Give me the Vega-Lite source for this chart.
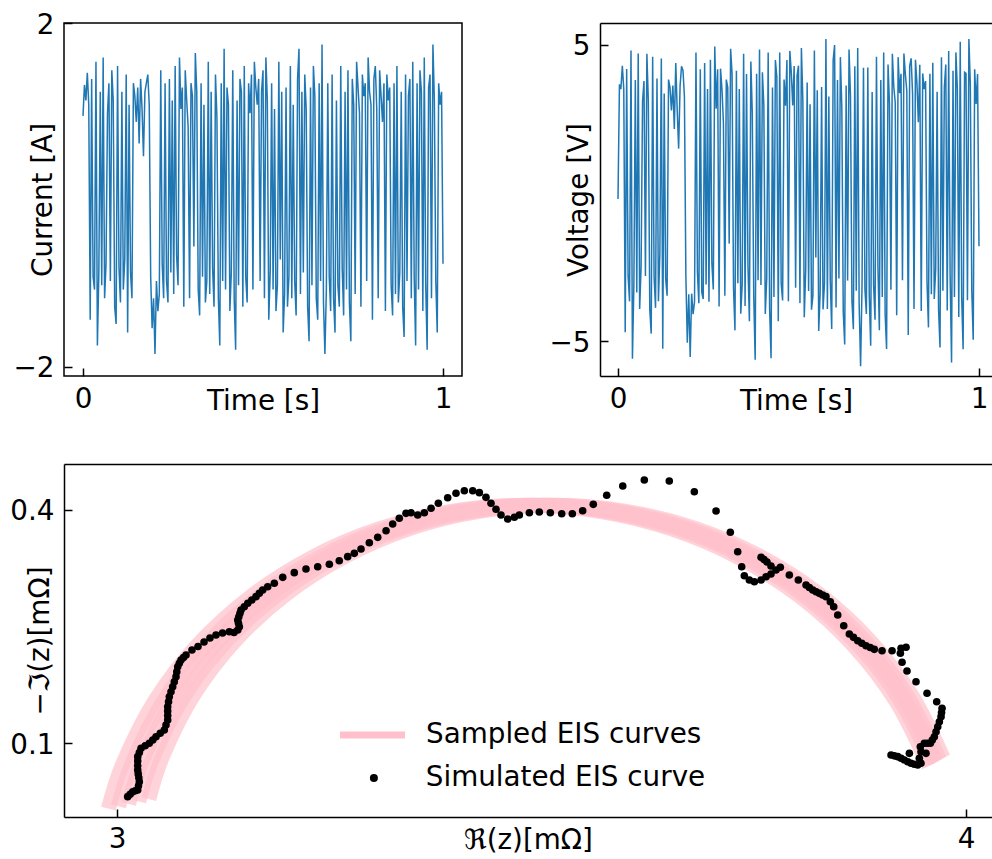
{
"$schema": "https://vega.github.io/schema/vega-lite/v6.json",
"background": "white",
"padding": {"left": 9, "top": 10, "right": 0, "bottom": 0},
"bounds": "flush",
"spacing": 441,
"config": {
  "font": "DejaVu Sans",
  "view": {"stroke": null},
  "axis": {"labelFont": "DejaVu Sans", "labelFontSize": 27.8, "labelColor": "black", "titleFont": "DejaVu Sans", "titleFontSize": 27.8, "titleFontWeight": "normal", "titleColor": "black", "tickColor": "black", "tickWidth": 1.5, "tickSize": -8, "domainColor": "black", "domainWidth": 1.5, "grid": false, "labelFlush": false, "labelOverlap": false, "labelLimit": 0},
  "axisY": {"labelBaseline": "alphabetic", "labelOffset": 10},
  "legend": {"labelFont": "DejaVu Sans", "labelFontSize": 27.8, "labelColor": "black", "labelLimit": 0, "padding": 0}
},
"datasets": {
"ts": [
{"t":0,"I":0.92,"V":-0.2},{"t":0.004,"I":1.28,"V":3.67},{"t":0.008,"I":1.1,"V":3.51},{"t":0.012,"I":1.42,"V":4.3},{"t":0.016,"I":1.05,"V":3.51},{"t":0.02,"I":-1.45,"V":-4.7},{"t":0.024,"I":1.35,"V":4.19},{"t":0.028,"I":-0.95,"V":-2.8},{"t":0.032,"I":-1.1,"V":-3.66},{"t":0.036,"I":1.55,"V":4.81},
{"t":0.04,"I":-1.75,"V":-5.6},{"t":0.044,"I":-0.9,"V":-3.09},{"t":0.048,"I":1.2,"V":3.82},{"t":0.052,"I":-1.05,"V":-3.36},{"t":0.056,"I":1.6,"V":4.71},{"t":0.06,"I":-1.2,"V":-3.92},{"t":0.064,"I":-0.8,"V":-2.48},{"t":0.068,"I":0.95,"V":3.1},{"t":0.072,"I":1.3,"V":3.78},{"t":0.076,"I":-1.0,"V":-2.8},
{"t":0.08,"I":1.45,"V":4.7},{"t":0.084,"I":1.1,"V":3.11},{"t":0.088,"I":-1.3,"V":-3.93},{"t":0.092,"I":-1.5,"V":-4.75},{"t":0.096,"I":1.5,"V":4.6},{"t":0.1,"I":-0.85,"V":-2.84},{"t":0.104,"I":-1.25,"V":-3.88},{"t":0.108,"I":1.2,"V":3.87},{"t":0.112,"I":-1.1,"V":-3.66},{"t":0.116,"I":-0.75,"V":-2.03},
{"t":0.12,"I":1.4,"V":4.54},{"t":0.124,"I":-1.6,"V":-5.26},{"t":0.128,"I":1.05,"V":3.36},{"t":0.132,"I":-0.9,"V":-2.89},{"t":0.136,"I":-1.2,"V":-3.47},{"t":0.14,"I":1.3,"V":3.83},{"t":0.144,"I":1.15,"V":3.57},{"t":0.148,"I":0.85,"V":2.79},{"t":0.152,"I":1.25,"V":3.63},{"t":0.156,"I":0.6,"V":2.16},
{"t":0.16,"I":1.35,"V":4.39},{"t":0.164,"I":1.0,"V":2.8},{"t":0.168,"I":0.45,"V":1.5},{"t":0.172,"I":1.2,"V":3.62},{"t":0.176,"I":1.3,"V":4.28},{"t":0.18,"I":1.4,"V":4.14},{"t":0.184,"I":1.05,"V":3.26},{"t":0.188,"I":-0.95,"V":-2.8},{"t":0.192,"I":-1.55,"V":-5.06},{"t":0.196,"I":-1.2,"V":-3.42},
{"t":0.2,"I":-1.85,"V":-5.54},{"t":0.204,"I":-1.0,"V":-3.4},{"t":0.208,"I":-1.35,"V":-4.09},{"t":0.212,"I":-1.15,"V":-3.67},{"t":0.216,"I":1.45,"V":4.75},{"t":0.22,"I":-0.8,"V":-2.68},{"t":0.224,"I":-1.2,"V":-3.72},{"t":0.228,"I":1.3,"V":4.18},{"t":0.232,"I":-1.0,"V":-3.35},{"t":0.236,"I":-1.25,"V":-3.58},
{"t":0.24,"I":1.35,"V":4.39},{"t":0.244,"I":-0.9,"V":-3.09},{"t":0.248,"I":1.1,"V":3.51},{"t":0.252,"I":-1.15,"V":-3.67},{"t":0.256,"I":1.5,"V":4.5},{"t":0.26,"I":-0.7,"V":-2.37},{"t":0.264,"I":-1.05,"V":-3.26},{"t":0.268,"I":1.6,"V":4.95},{"t":0.272,"I":1.0,"V":2.85},{"t":0.276,"I":1.25,"V":4.18},
{"t":0.28,"I":-1.3,"V":-3.83},{"t":0.284,"I":1.45,"V":4.2},{"t":0.288,"I":1.1,"V":3.51},{"t":0.292,"I":0.8,"V":2.38},{"t":0.296,"I":-1.2,"V":-3.47},{"t":0.3,"I":1.3,"V":3.83},{"t":0.304,"I":1.15,"V":3.57},{"t":0.308,"I":-0.6,"V":-1.71},{"t":0.312,"I":1.65,"V":4.87},{"t":0.316,"I":1.2,"V":4.02},
{"t":0.32,"I":-1.1,"V":-3.21},{"t":0.324,"I":-1.4,"V":-4.64},{"t":0.328,"I":1.3,"V":4.13},{"t":0.332,"I":-0.95,"V":-3.05},{"t":0.336,"I":1.05,"V":3.51},{"t":0.34,"I":-1.25,"V":-4.08},{"t":0.344,"I":-1.0,"V":-3.1},{"t":0.348,"I":1.55,"V":4.7},{"t":0.352,"I":-1.15,"V":-3.82},{"t":0.356,"I":1.2,"V":4.02},
{"t":0.36,"I":-0.85,"V":-2.44},{"t":0.364,"I":-1.3,"V":-4.33},{"t":0.368,"I":1.4,"V":4.44},{"t":0.372,"I":0.9,"V":2.69},{"t":0.376,"I":-1.2,"V":-3.47},{"t":0.38,"I":-1.75,"V":-5.63},{"t":0.384,"I":1.3,"V":4.03},{"t":0.388,"I":-1.0,"V":-2.95},{"t":0.392,"I":1.7,"V":4.85},{"t":0.396,"I":-1.1,"V":-3.11},
{"t":0.4,"I":1.25,"V":4.08},{"t":0.404,"I":1.05,"V":2.96},{"t":0.408,"I":-1.35,"V":-4.09},{"t":0.412,"I":-0.9,"V":-2.89},{"t":0.416,"I":1.45,"V":4.75},{"t":0.42,"I":-1.2,"V":-3.92},{"t":0.424,"I":-1.8,"V":-5.58},{"t":0.428,"I":1.1,"V":3.56},{"t":0.432,"I":-1.05,"V":-3.51},{"t":0.436,"I":1.35,"V":4.49},
{"t":0.44,"I":1.2,"V":3.92},{"t":0.444,"I":-1.3,"V":-4.33},{"t":0.448,"I":1.5,"V":4.75},{"t":0.452,"I":-0.95,"V":-3.05},{"t":0.456,"I":-1.25,"V":-3.63},{"t":0.46,"I":1.3,"V":3.83},{"t":0.464,"I":0.95,"V":2.95},{"t":0.468,"I":1.4,"V":4.49},{"t":0.472,"I":-1.1,"V":-3.66},{"t":0.476,"I":1.55,"V":4.8},
{"t":0.48,"I":1.25,"V":4.08},{"t":0.484,"I":1.05,"V":2.96},{"t":0.488,"I":1.35,"V":4.29},{"t":0.492,"I":-1.0,"V":-3.2},{"t":0.496,"I":1.2,"V":3.97},{"t":0.5,"I":1.45,"V":4.3},{"t":0.504,"I":-1.2,"V":-3.72},{"t":0.508,"I":1.6,"V":4.9},{"t":0.512,"I":1.1,"V":3.16},{"t":0.516,"I":-1.45,"V":-4.2},
{"t":0.52,"I":-0.9,"V":-2.59},{"t":0.524,"I":1.3,"V":3.73},{"t":0.528,"I":-1.1,"V":-3.31},{"t":0.532,"I":1.0,"V":3.0},{"t":0.536,"I":-1.35,"V":-3.94},{"t":0.54,"I":-1.05,"V":-3.46},{"t":0.544,"I":1.55,"V":4.81},{"t":0.548,"I":-0.75,"V":-2.18},{"t":0.552,"I":1.2,"V":3.47},{"t":0.556,"I":-1.6,"V":-4.66},
{"t":0.56,"I":-1.15,"V":-3.37},{"t":0.564,"I":1.25,"V":3.58},{"t":0.568,"I":-1.3,"V":-3.93},{"t":0.572,"I":-0.95,"V":-3.05},{"t":0.576,"I":1.5,"V":5.2},{"t":0.58,"I":-1.2,"V":-3.92},{"t":0.584,"I":1.05,"V":3.26},{"t":0.588,"I":-1.0,"V":-2.95},{"t":0.592,"I":-1.4,"V":-4.59},{"t":0.596,"I":1.35,"V":4.49},
{"t":0.6,"I":1.7,"V":5.0},{"t":0.604,"I":-1.15,"V":-3.87},{"t":0.608,"I":1.2,"V":3.82},{"t":0.612,"I":-0.9,"V":-2.89},{"t":0.616,"I":1.4,"V":4.59},{"t":0.62,"I":1.0,"V":2.9},{"t":0.624,"I":-1.3,"V":-4.03},{"t":0.628,"I":-1.7,"V":-5.12},{"t":0.632,"I":1.25,"V":3.63},{"t":0.636,"I":-1.05,"V":-2.96},
{"t":0.64,"I":1.5,"V":4.85},{"t":0.644,"I":1.15,"V":3.27},{"t":0.648,"I":-1.2,"V":-3.62},{"t":0.652,"I":-1.45,"V":-4.6},{"t":0.656,"I":1.3,"V":4.28},{"t":0.66,"I":-1.0,"V":-3.3},{"t":0.664,"I":1.75,"V":4.9},{"t":0.668,"I":-1.25,"V":-3.73},{"t":0.672,"I":-1.85,"V":-5.85},{"t":0.676,"I":-1.1,"V":-3.11},
{"t":0.68,"I":1.3,"V":4.23},{"t":0.684,"I":-0.95,"V":-3.25},{"t":0.688,"I":-1.35,"V":-4.09},{"t":0.692,"I":1.4,"V":4.24},{"t":0.696,"I":-1.2,"V":-3.47},{"t":0.7,"I":-1.6,"V":-5.16},{"t":0.704,"I":1.1,"V":3.41},{"t":0.708,"I":-1.05,"V":-3.11},{"t":0.712,"I":-1.3,"V":-4.28},{"t":0.716,"I":1.5,"V":4.6},
{"t":0.72,"I":-0.85,"V":-2.44},{"t":0.724,"I":-1.4,"V":-4.64},{"t":0.728,"I":1.2,"V":3.82},{"t":0.732,"I":-1.1,"V":-3.51},{"t":0.736,"I":1.45,"V":4.75},{"t":0.74,"I":-1.25,"V":-4.08},{"t":0.744,"I":-1.7,"V":-5.27},{"t":0.748,"I":1.35,"V":4.34},{"t":0.752,"I":1.05,"V":3.01},{"t":0.756,"I":-1.15,"V":-3.27},
{"t":0.76,"I":1.55,"V":4.7},{"t":0.764,"I":1.25,"V":3.58},{"t":0.768,"I":0.95,"V":3.05},{"t":0.772,"I":-1.3,"V":-4.13},{"t":0.776,"I":1.4,"V":4.59},{"t":0.78,"I":1.15,"V":3.37},{"t":0.784,"I":1.3,"V":4.03},{"t":0.788,"I":-1.0,"V":-2.95},{"t":0.792,"I":1.6,"V":4.71},{"t":0.796,"I":1.2,"V":4.02},
{"t":0.8,"I":1.05,"V":3.46},{"t":0.804,"I":-1.45,"V":-4.8},{"t":0.808,"I":1.35,"V":4.29},{"t":0.812,"I":1.5,"V":4.55},{"t":0.816,"I":1.0,"V":3.35},{"t":0.82,"I":-1.2,"V":-3.92},{"t":0.824,"I":1.45,"V":4.5},{"t":0.828,"I":1.15,"V":3.72},{"t":0.832,"I":0.85,"V":2.39},{"t":0.836,"I":1.3,"V":4.33},
{"t":0.84,"I":-1.35,"V":-3.99},{"t":0.844,"I":1.4,"V":4.04},{"t":0.848,"I":1.1,"V":3.51},{"t":0.852,"I":1.25,"V":3.78},{"t":0.856,"I":-1.05,"V":-3.01},{"t":0.86,"I":-1.4,"V":-4.54},{"t":0.864,"I":1.3,"V":4.03},{"t":0.868,"I":-1.15,"V":-3.42},{"t":0.872,"I":1.5,"V":4.4},{"t":0.876,"I":-1.25,"V":-3.58},
{"t":0.88,"I":-0.9,"V":-2.59},{"t":0.884,"I":1.2,"V":3.42},{"t":0.888,"I":-1.3,"V":-3.93},{"t":0.892,"I":-1.65,"V":-5.22},{"t":0.896,"I":1.4,"V":4.59},{"t":0.9,"I":-1.0,"V":-3.3},{"t":0.904,"I":1.15,"V":3.57},{"t":0.908,"I":1.35,"V":4.34},{"t":0.912,"I":-1.2,"V":-3.97},{"t":0.916,"I":1.55,"V":4.8},
{"t":0.92,"I":-0.95,"V":-2.75},{"t":0.924,"I":-1.75,"V":-5.73},{"t":0.928,"I":1.3,"V":4.13},{"t":0.932,"I":-1.1,"V":-3.51},{"t":0.936,"I":1.45,"V":4.75},{"t":0.94,"I":1.2,"V":3.52},{"t":0.944,"I":-1.35,"V":-4.19},{"t":0.948,"I":1.6,"V":5.11},{"t":0.952,"I":-1.05,"V":-3.51},{"t":0.956,"I":-1.8,"V":-5.28},
{"t":0.96,"I":1.25,"V":4.08},{"t":0.964,"I":1.4,"V":4.04},{"t":0.968,"I":-1.2,"V":-3.62},{"t":0.972,"I":1.75,"V":5.2},{"t":0.976,"I":1.1,"V":3.66},{"t":0.98,"I":-1.0,"V":-3.3},{"t":0.984,"I":-1.6,"V":-4.96},{"t":0.988,"I":1.3,"V":4.18},{"t":0.992,"I":1.05,"V":3.01},{"t":0.996,"I":1.2,"V":4.02},
{"t":1.0,"I":-0.8,"V":-1.8}
],
"arcs": [
{"c":1,"Re":2.9899,"Im":0.0154,"s":"Sampled EIS curves"},{"c":1,"Re":3.0074,"Im":0.0744,"s":"Sampled EIS curves"},{"c":1,"Re":3.0445,"Im":0.154,"s":"Sampled EIS curves"},{"c":1,"Re":3.0949,"Im":0.226,"s":"Sampled EIS curves"},{"c":1,"Re":3.157,"Im":0.2881,"s":"Sampled EIS curves"},{"c":1,"Re":3.229,"Im":0.3385,"s":"Sampled EIS curves"},{"c":1,"Re":3.3086,"Im":0.3756,"s":"Sampled EIS curves"},{"c":1,"Re":3.3935,"Im":0.3983,"s":"Sampled EIS curves"},{"c":1,"Re":3.481,"Im":0.406,"s":"Sampled EIS curves"},{"c":1,"Re":3.5685,"Im":0.3983,"s":"Sampled EIS curves"},{"c":1,"Re":3.6534,"Im":0.3756,"s":"Sampled EIS curves"},{"c":1,"Re":3.733,"Im":0.3385,"s":"Sampled EIS curves"},{"c":1,"Re":3.805,"Im":0.2881,"s":"Sampled EIS curves"},{"c":1,"Re":3.8671,"Im":0.226,"s":"Sampled EIS curves"},{"c":1,"Re":3.9175,"Im":0.154,"s":"Sampled EIS curves"},{"c":1,"Re":3.9561,"Im":0.0702,"s":"Sampled EIS curves"},
{"c":2,"Re":3.0018,"Im":0.0185,"s":"Sampled EIS curves"},{"c":2,"Re":3.0191,"Im":0.077,"s":"Sampled EIS curves"},{"c":2,"Re":3.056,"Im":0.156,"s":"Sampled EIS curves"},{"c":2,"Re":3.106,"Im":0.2274,"s":"Sampled EIS curves"},{"c":2,"Re":3.1676,"Im":0.289,"s":"Sampled EIS curves"},{"c":2,"Re":3.239,"Im":0.339,"s":"Sampled EIS curves"},{"c":2,"Re":3.318,"Im":0.3759,"s":"Sampled EIS curves"},{"c":2,"Re":3.4022,"Im":0.3984,"s":"Sampled EIS curves"},{"c":2,"Re":3.489,"Im":0.406,"s":"Sampled EIS curves"},{"c":2,"Re":3.5758,"Im":0.3984,"s":"Sampled EIS curves"},{"c":2,"Re":3.66,"Im":0.3759,"s":"Sampled EIS curves"},{"c":2,"Re":3.739,"Im":0.339,"s":"Sampled EIS curves"},{"c":2,"Re":3.8104,"Im":0.289,"s":"Sampled EIS curves"},{"c":2,"Re":3.872,"Im":0.2274,"s":"Sampled EIS curves"},{"c":2,"Re":3.922,"Im":0.156,"s":"Sampled EIS curves"},{"c":2,"Re":3.9603,"Im":0.0729,"s":"Sampled EIS curves"},
{"c":3,"Re":3.0137,"Im":0.0216,"s":"Sampled EIS curves"},{"c":3,"Re":3.0309,"Im":0.0796,"s":"Sampled EIS curves"},{"c":3,"Re":3.0675,"Im":0.158,"s":"Sampled EIS curves"},{"c":3,"Re":3.1171,"Im":0.2288,"s":"Sampled EIS curves"},{"c":3,"Re":3.1782,"Im":0.2899,"s":"Sampled EIS curves"},{"c":3,"Re":3.249,"Im":0.3395,"s":"Sampled EIS curves"},{"c":3,"Re":3.3274,"Im":0.3761,"s":"Sampled EIS curves"},{"c":3,"Re":3.4109,"Im":0.3985,"s":"Sampled EIS curves"},{"c":3,"Re":3.497,"Im":0.406,"s":"Sampled EIS curves"},{"c":3,"Re":3.5831,"Im":0.3985,"s":"Sampled EIS curves"},{"c":3,"Re":3.6666,"Im":0.3761,"s":"Sampled EIS curves"},{"c":3,"Re":3.745,"Im":0.3395,"s":"Sampled EIS curves"},{"c":3,"Re":3.8158,"Im":0.2899,"s":"Sampled EIS curves"},{"c":3,"Re":3.8769,"Im":0.2288,"s":"Sampled EIS curves"},{"c":3,"Re":3.9265,"Im":0.158,"s":"Sampled EIS curves"},{"c":3,"Re":3.9645,"Im":0.0756,"s":"Sampled EIS curves"},
{"c":4,"Re":3.0256,"Im":0.0247,"s":"Sampled EIS curves"},{"c":4,"Re":3.0427,"Im":0.0823,"s":"Sampled EIS curves"},{"c":4,"Re":3.0789,"Im":0.16,"s":"Sampled EIS curves"},{"c":4,"Re":3.1281,"Im":0.2303,"s":"Sampled EIS curves"},{"c":4,"Re":3.1887,"Im":0.2909,"s":"Sampled EIS curves"},{"c":4,"Re":3.259,"Im":0.3401,"s":"Sampled EIS curves"},{"c":4,"Re":3.3367,"Im":0.3763,"s":"Sampled EIS curves"},{"c":4,"Re":3.4196,"Im":0.3985,"s":"Sampled EIS curves"},{"c":4,"Re":3.505,"Im":0.406,"s":"Sampled EIS curves"},{"c":4,"Re":3.5904,"Im":0.3985,"s":"Sampled EIS curves"},{"c":4,"Re":3.6733,"Im":0.3763,"s":"Sampled EIS curves"},{"c":4,"Re":3.751,"Im":0.3401,"s":"Sampled EIS curves"},{"c":4,"Re":3.8213,"Im":0.2909,"s":"Sampled EIS curves"},{"c":4,"Re":3.8819,"Im":0.2303,"s":"Sampled EIS curves"},{"c":4,"Re":3.9311,"Im":0.16,"s":"Sampled EIS curves"},{"c":4,"Re":3.9688,"Im":0.0782,"s":"Sampled EIS curves"},
{"c":5,"Re":3.0375,"Im":0.0278,"s":"Sampled EIS curves"},{"c":5,"Re":3.0544,"Im":0.0849,"s":"Sampled EIS curves"},{"c":5,"Re":3.0904,"Im":0.162,"s":"Sampled EIS curves"},{"c":5,"Re":3.1392,"Im":0.2317,"s":"Sampled EIS curves"},{"c":5,"Re":3.1993,"Im":0.2918,"s":"Sampled EIS curves"},{"c":5,"Re":3.269,"Im":0.3406,"s":"Sampled EIS curves"},{"c":5,"Re":3.3461,"Im":0.3768,"s":"Sampled EIS curves"},{"c":5,"Re":3.4283,"Im":0.3986,"s":"Sampled EIS curves"},{"c":5,"Re":3.513,"Im":0.406,"s":"Sampled EIS curves"},{"c":5,"Re":3.5977,"Im":0.3986,"s":"Sampled EIS curves"},{"c":5,"Re":3.6799,"Im":0.3768,"s":"Sampled EIS curves"},{"c":5,"Re":3.757,"Im":0.3406,"s":"Sampled EIS curves"},{"c":5,"Re":3.8267,"Im":0.2918,"s":"Sampled EIS curves"},{"c":5,"Re":3.8868,"Im":0.2317,"s":"Sampled EIS curves"},{"c":5,"Re":3.9356,"Im":0.162,"s":"Sampled EIS curves"},{"c":5,"Re":3.973,"Im":0.0809,"s":"Sampled EIS curves"}
],
"sim": [
{"Re":3.0126,"Im":0.0309},{"Re":3.0155,"Im":0.0341},{"Re":3.0185,"Im":0.0373},{"Re":3.0214,"Im":0.0385},{"Re":3.0244,"Im":0.0395},{"Re":3.0253,"Im":0.0449},{"Re":3.0263,"Im":0.0502},{"Re":3.0257,"Im":0.0552},{"Re":3.025,"Im":0.0602},{"Re":3.0244,"Im":0.0652},
{"Re":3.0244,"Im":0.0709},{"Re":3.0244,"Im":0.0767},{"Re":3.0244,"Im":0.0824},{"Re":3.0263,"Im":0.0878},{"Re":3.0283,"Im":0.0932},{"Re":3.0332,"Im":0.0964},{"Re":3.038,"Im":0.0996},{"Re":3.0421,"Im":0.1039},{"Re":3.0459,"Im":0.1081},{"Re":3.0509,"Im":0.1125},
{"Re":3.0557,"Im":0.1167},{"Re":3.0577,"Im":0.1232},{"Re":3.0597,"Im":0.1296},{"Re":3.0597,"Im":0.1353},{"Re":3.0597,"Im":0.1411},{"Re":3.0597,"Im":0.1467},{"Re":3.0607,"Im":0.1532},{"Re":3.0616,"Im":0.1596},{"Re":3.0636,"Im":0.166},{"Re":3.0656,"Im":0.1725},
{"Re":3.0675,"Im":0.1789},{"Re":3.0695,"Im":0.1854},{"Re":3.0704,"Im":0.1918},{"Re":3.0715,"Im":0.1982},{"Re":3.0734,"Im":0.2026},{"Re":3.0754,"Im":0.2069},{"Re":3.0783,"Im":0.2101},{"Re":3.0813,"Im":0.2133},{"Re":3.0883,"Im":0.2197},{"Re":3.0954,"Im":0.2242},
{"Re":3.1025,"Im":0.23},{"Re":3.1095,"Im":0.2352},{"Re":3.1166,"Im":0.2391},{"Re":3.1243,"Im":0.2416},{"Re":3.1323,"Im":0.2433},{"Re":3.1378,"Im":0.2423},{"Re":3.1422,"Im":0.2455},{"Re":3.1441,"Im":0.2497},{"Re":3.1431,"Im":0.2541},{"Re":3.1422,"Im":0.2584},
{"Re":3.1435,"Im":0.2626},{"Re":3.1448,"Im":0.267},{"Re":3.1461,"Im":0.2712},{"Re":3.1499,"Im":0.2755},{"Re":3.154,"Im":0.2799},{"Re":3.1588,"Im":0.2841},{"Re":3.1637,"Im":0.2884},{"Re":3.1676,"Im":0.2927},{"Re":3.1716,"Im":0.297},{"Re":3.1775,"Im":0.3012},
{"Re":3.1853,"Im":0.3056},{"Re":3.1952,"Im":0.3133},{"Re":3.2088,"Im":0.3193},{"Re":3.2226,"Im":0.324},{"Re":3.2364,"Im":0.327},{"Re":3.2501,"Im":0.3301},{"Re":3.2618,"Im":0.3347},{"Re":3.2717,"Im":0.3399},{"Re":3.2795,"Im":0.3442},{"Re":3.2874,"Im":0.3498},
{"Re":3.2972,"Im":0.3579},{"Re":3.3071,"Im":0.3648},{"Re":3.3169,"Im":0.3733},{"Re":3.3247,"Im":0.382},{"Re":3.3325,"Im":0.3893},{"Re":3.3404,"Im":0.3957},{"Re":3.3463,"Im":0.3965},{"Re":3.3542,"Im":0.3936},{"Re":3.362,"Im":0.3965},{"Re":3.3699,"Im":0.4022},
{"Re":3.3785,"Im":0.4086},{"Re":3.3895,"Im":0.4158},{"Re":3.3993,"Im":0.4215},{"Re":3.4091,"Im":0.4248},{"Re":3.419,"Im":0.4248},{"Re":3.4268,"Im":0.4223},{"Re":3.4346,"Im":0.4163},{"Re":3.4405,"Im":0.4086},{"Re":3.4464,"Im":0.4009},{"Re":3.4523,"Im":0.3936},
{"Re":3.4602,"Im":0.3884},{"Re":3.468,"Im":0.3906},{"Re":3.4739,"Im":0.3936},{"Re":3.4857,"Im":0.3965},{"Re":3.4974,"Im":0.3974},{"Re":3.5104,"Im":0.3965},{"Re":3.5238,"Im":0.3952},{"Re":3.5363,"Im":0.3952},{"Re":3.5485,"Im":0.3991},{"Re":3.561,"Im":0.4073},
{"Re":3.5768,"Im":0.4189},{"Re":3.5957,"Im":0.4309},{"Re":3.6211,"Im":0.4386},{"Re":3.6505,"Im":0.4373},{"Re":3.68,"Im":0.4235},{"Re":3.7056,"Im":0.3987},{"Re":3.7224,"Im":0.3713},{"Re":3.7311,"Im":0.3463},{"Re":3.7358,"Im":0.327},{"Re":3.7389,"Im":0.3154},
{"Re":3.7448,"Im":0.3099},{"Re":3.7507,"Im":0.3077},{"Re":3.7586,"Im":0.3099},{"Re":3.7645,"Im":0.3141},{"Re":3.7703,"Im":0.3176},{"Re":3.7762,"Im":0.3227},{"Re":3.7586,"Im":0.3391},{"Re":3.7621,"Im":0.3363},{"Re":3.7656,"Im":0.333},{"Re":3.7703,"Im":0.3279},
{"Re":3.7813,"Im":0.3262},{"Re":3.7919,"Im":0.3163},{"Re":3.8025,"Im":0.3099},{"Re":3.8116,"Im":0.3034},{"Re":3.8155,"Im":0.3002},{"Re":3.8195,"Im":0.297},{"Re":3.8234,"Im":0.2948},{"Re":3.8272,"Im":0.2927},{"Re":3.8312,"Im":0.2906},{"Re":3.8351,"Im":0.2884},
{"Re":3.8402,"Im":0.2819},{"Re":3.8442,"Im":0.2755},{"Re":3.8489,"Im":0.2648},{"Re":3.856,"Im":0.251},{"Re":3.8626,"Im":0.2403},{"Re":3.8675,"Im":0.236},{"Re":3.8725,"Im":0.2317},{"Re":3.8773,"Im":0.2285},{"Re":3.8822,"Im":0.2253},{"Re":3.8872,"Im":0.223},
{"Re":3.892,"Im":0.2206},{"Re":3.9011,"Im":0.2188},{"Re":3.9129,"Im":0.2188},{"Re":3.9235,"Im":0.2219},{"Re":3.9294,"Im":0.2232},{"Re":3.9227,"Im":0.2155},{"Re":3.9247,"Im":0.2039},{"Re":3.9305,"Im":0.1927},{"Re":3.9411,"Im":0.1789},{"Re":3.9541,"Im":0.164},
{"Re":3.9655,"Im":0.1532},{"Re":3.9718,"Im":0.1447},{"Re":3.9712,"Im":0.1393},{"Re":3.9706,"Im":0.1339},{"Re":3.9686,"Im":0.1274},{"Re":3.9667,"Im":0.121},{"Re":3.9647,"Im":0.1145},{"Re":3.9627,"Im":0.1081},{"Re":3.9603,"Im":0.1039},{"Re":3.958,"Im":0.0996},
{"Re":3.9545,"Im":0.0996},{"Re":3.9509,"Im":0.0996},{"Re":3.9462,"Im":0.0952},{"Re":3.947,"Im":0.0888},{"Re":3.9529,"Im":0.0867},{"Re":3.945,"Im":0.0803},{"Re":3.9431,"Im":0.0717},{"Re":3.9391,"Im":0.0727},{"Re":3.9352,"Im":0.0739},{"Re":3.9314,"Im":0.0759},
{"Re":3.9274,"Im":0.0781},{"Re":3.9235,"Im":0.0803},{"Re":3.9196,"Im":0.0824},{"Re":3.9156,"Im":0.0835},{"Re":3.9117,"Im":0.0845},{"Re":3.9333,"Im":0.0867},{"Re":3.947,"Im":0.0739}
]
},
"vconcat": [
{
 "hconcat": [
  {
   "width": 398, "height": 353,
   "view": {"stroke": "black", "strokeWidth": 1.5},
   "data": {"name": "ts"},
   "mark": {"type": "line", "strokeWidth": 1.5, "color": "#1f77b4"},
   "encoding": {
    "x": {"field": "t", "type": "quantitative", "scale": {"domain": [-0.05278, 1.05278], "nice": false, "zero": false},
          "axis": {"values": [0, 1], "format": "d", "domain": false, "labelBaseline": "alphabetic", "labelPadding": 39, "title": "Time [s]", "titleBaseline": "alphabetic", "titleY": 33}},
    "y": {"field": "I", "type": "quantitative", "scale": {"domain": [-2.1047, 2.0], "nice": false, "zero": false},
          "axis": {"values": [-2, 2], "format": "d", "domain": false, "labelPadding": 18, "title": "Current [A]", "titleBaseline": "alphabetic", "titleAngle": 270, "titleX": -12.5}}
   }
  },
  {
   "width": 392, "height": 353,
   "layer": [
    {
     "data": {"name": "ts"},
     "mark": {"type": "line", "strokeWidth": 1.5, "color": "#1f77b4"},
     "encoding": {
      "x": {"field": "t", "type": "quantitative", "scale": {"domain": [-0.04986, 1.03601], "nice": false, "zero": false},
            "axis": {"values": [0, 1], "format": "d", "domain": true, "labelBaseline": "alphabetic", "labelPadding": 39, "title": "Time [s]", "titleBaseline": "alphabetic", "titleY": 33}},
      "y": {"field": "V", "type": "quantitative", "scale": {"domain": [-6.182, 5.743], "nice": false, "zero": false},
            "axis": {"values": [-5, 5], "format": "d", "domain": true, "labelPadding": 18, "title": "Voltage [V]", "titleBaseline": "alphabetic", "titleAngle": 270, "titleX": -13}}
     }
    },
    {
     "data": {"values": []},
     "mark": "point",
     "encoding": {
      "x": {"field": "t", "type": "quantitative", "scale": {"domain": [-0.04986, 1.03601], "nice": false, "zero": false},
            "axis": {"orient": "top", "labels": false, "ticks": false, "title": null, "domain": true}}
     }
    }
   ],
   "resolve": {"axis": {"x": "independent"}}
  }
 ],
 "spacing": 138,
 "bounds": "flush"
},
{
 "width": 928, "height": 353,
 "layer": [
  {
   "data": {"name": "arcs"},
   "mark": {"type": "line", "strokeWidth": 15, "opacity": 0.7, "interpolate": "cardinal"},
   "encoding": {
    "x": {"field": "Re", "type": "quantitative", "scale": {"domain": [2.93757, 4.03062], "nice": false, "zero": false},
          "axis": {"values": [3, 4], "format": "d", "domain": true, "labelBaseline": "alphabetic", "labelPadding": 38, "title": "ℜ(z)[mΩ]", "titleBaseline": "alphabetic", "titleY": 31}},
    "y": {"field": "Im", "type": "quantitative", "scale": {"domain": [0.00473, 0.45922], "nice": false, "zero": false},
          "axis": {"values": [0.1, 0.4], "format": ".1f", "domain": true, "labelPadding": 18, "title": "−ℑ(z)[mΩ]", "titleBaseline": "alphabetic", "titleAngle": 270, "titleX": -15.5}},
    "detail": {"field": "c", "type": "nominal"},
    "stroke": {"field": "s", "type": "nominal", "scale": {"domain": ["Sampled EIS curves"], "range": ["pink"]},
               "legend": {"orient": "none", "legendX": 272.5, "legendY": 676, "title": null, "symbolType": "stroke", "symbolSize": 4225, "symbolStrokeWidth": 7, "symbolOpacity": 1, "labelOffset": 17.5}}
   }
  },
  {
   "data": {"name": "sim"},
   "mark": {"type": "point", "filled": true, "size": 58, "opacity": 1, "strokeWidth": 0},
   "encoding": {
    "x": {"field": "Re", "type": "quantitative", "scale": {"domain": [2.93757, 4.03062], "nice": false, "zero": false}, "axis": null},
    "y": {"field": "Im", "type": "quantitative", "scale": {"domain": [0.00473, 0.45922], "nice": false, "zero": false}, "axis": null},
    "fill": {"datum": "Simulated EIS curve", "type": "nominal", "scale": {"domain": ["Simulated EIS curve"], "range": ["black"]},
             "legend": {"orient": "none", "legendX": 296, "legendY": 741, "title": null, "symbolType": "circle", "symbolSize": 64, "symbolStrokeWidth": 0, "symbolFillColor": "black", "labelOffset": 38}}
   }
  },
  {
   "data": {"values": []},
   "mark": "point",
   "encoding": {
    "x": {"field": "Re", "type": "quantitative", "scale": {"domain": [2.93757, 4.03062], "nice": false, "zero": false},
          "axis": {"orient": "top", "labels": false, "ticks": false, "title": null, "domain": true}}
   }
  }
 ],
 "resolve": {"axis": {"x": "independent", "y": "independent"}}
}
]
}
